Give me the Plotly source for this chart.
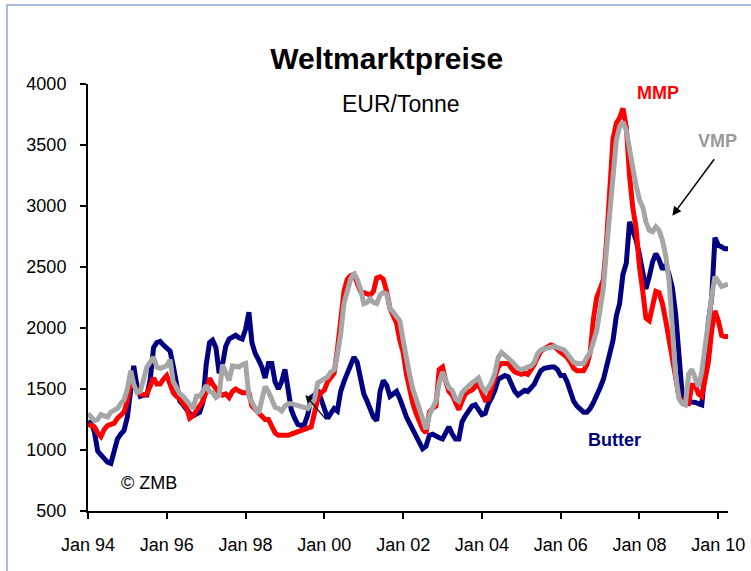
import pandas as pd
import plotly.graph_objects as go

# monthly world market prices, EUR/t, Jan 1994 - Apr 2010
months = pd.date_range("1994-01-01", periods=196, freq="MS")

butter = [
    1230, 1220, 1150, 990, 960, 930, 900, 890, 1000, 1090, 1130, 1160,
    1270, 1540, 1690, 1520, 1440, 1450, 1450, 1580, 1840, 1880, 1890, 1860,
    1830, 1810, 1690, 1520, 1400, 1370, 1330, 1300, 1280, 1290, 1310, 1390,
    1700, 1880, 1900, 1840, 1630, 1700, 1850, 1910, 1930, 1940, 1920, 1910,
    1990, 2130, 1880, 1790, 1740, 1680, 1590, 1710, 1710, 1560, 1500, 1560,
    1660, 1490, 1330, 1260, 1210, 1200, 1210, 1290, 1430, 1450, 1490, 1420,
    1330, 1260, 1300, 1340, 1320, 1480, 1560, 1620, 1680, 1760, 1720, 1600,
    1460, 1400, 1340, 1270, 1240, 1480, 1570, 1530, 1440, 1460, 1480, 1420,
    1330, 1270, 1220, 1170, 1110, 1060, 1010, 1030, 1120, 1130, 1110, 1100,
    1090, 1150, 1190, 1130, 1090, 1090, 1230, 1280, 1330, 1360, 1370, 1320,
    1290, 1300, 1380, 1430, 1490, 1580, 1600, 1610, 1600, 1530, 1480, 1450,
    1470, 1490, 1480, 1510, 1540, 1600, 1650, 1670, 1680, 1680, 1680, 1660,
    1610, 1610, 1560, 1480, 1400, 1360, 1330, 1310, 1310, 1340, 1390, 1440,
    1510, 1580, 1680, 1790, 1900, 2100, 2200, 2440, 2530, 2870, 2800, 2720,
    2600, 2460, 2320, 2420, 2540, 2610, 2560, 2480, 2520, 2440, 2330, 2120,
    1790, 1450, 1400, 1400, 1400, 1390, 1380, 1370, 1680, 2050, 2250, 2740,
    2680, 2660, 2650, 2650,
]

mmp = [
    1210, 1200, 1190, 1140, 1110, 1170, 1200, 1210, 1220, 1260, 1280, 1310,
    1400, 1570, 1530, 1480, 1460, 1450, 1460, 1530, 1590, 1540, 1540, 1580,
    1610, 1540, 1470, 1440, 1420, 1380, 1350, 1260, 1280, 1320, 1360, 1400,
    1480, 1590, 1540, 1500, 1470, 1450, 1460, 1430, 1480, 1500, 1480, 1470,
    1470, 1470, 1360, 1330, 1300, 1270, 1250, 1250, 1200, 1140, 1120, 1120,
    1110, 1120, 1130, 1140, 1150, 1150, 1160, 1170, 1190, 1300, 1420, 1470,
    1490, 1560, 1600, 1630, 1820, 2050, 2300, 2400, 2430, 2440, 2370, 2300,
    2290, 2280, 2270, 2300, 2410, 2420, 2400, 2300, 2160, 2100, 2040, 1900,
    1800, 1620, 1500, 1380, 1300, 1220, 1170, 1140, 1310, 1340, 1360, 1660,
    1680, 1560, 1480, 1450, 1380, 1330, 1400, 1460, 1480, 1490, 1520, 1550,
    1470, 1410, 1420, 1520, 1590, 1680, 1710, 1710, 1710, 1670, 1640, 1630,
    1620, 1630, 1620, 1660, 1700, 1760, 1810, 1830, 1840, 1860, 1850, 1820,
    1800, 1780, 1760, 1720, 1670, 1650, 1650, 1650, 1700, 1800, 2080, 2250,
    2320, 2400, 2700, 3100, 3550, 3680, 3720, 3800, 3650, 3250, 2980, 2820,
    2500, 2300, 2080, 2060, 2160, 2300, 2290, 2200, 2060, 1900, 1760, 1560,
    1440, 1390, 1380, 1380, 1530, 1530, 1460, 1440, 1560, 1720, 1980, 2140,
    2060, 1940, 1930, 1930,
]

vmp = [
    1300, 1270, 1240, 1250, 1290, 1280, 1270, 1310, 1320, 1340, 1380, 1410,
    1500, 1650, 1540, 1470, 1480, 1570, 1680, 1720, 1760, 1680, 1670, 1680,
    1690, 1740, 1560, 1510, 1460, 1440, 1410, 1370, 1340, 1440, 1440, 1480,
    1530, 1480, 1470, 1430, 1450, 1700, 1620, 1570, 1690, 1680, 1680, 1700,
    1710, 1440, 1380, 1340, 1300, 1400, 1520, 1480, 1400, 1350, 1340, 1320,
    1360, 1380, 1380, 1370, 1360, 1350, 1350, 1340, 1380, 1410, 1550, 1570,
    1590, 1600, 1640, 1660, 1780, 1950, 2200, 2300, 2400, 2450, 2400, 2320,
    2200, 2210, 2240, 2210, 2200, 2270, 2290, 2280, 2160, 2130, 2090, 2060,
    1900, 1720, 1620, 1500, 1420, 1340, 1250, 1170, 1290, 1340, 1400, 1550,
    1640, 1570, 1510, 1490, 1420, 1400, 1470, 1500, 1530, 1550, 1570, 1590,
    1520, 1480, 1510, 1560, 1630, 1760, 1800, 1780, 1760, 1730, 1700, 1670,
    1660, 1670, 1680, 1690, 1720, 1790, 1820, 1830, 1830, 1840, 1850, 1840,
    1830, 1820, 1790, 1760, 1720, 1710, 1710, 1710, 1760, 1800, 1890, 1980,
    2150, 2330, 2640, 2960, 3300, 3540, 3650, 3690, 3620, 3440, 3310, 3170,
    3050, 2990, 2870, 2800, 2790, 2830, 2800, 2720, 2590, 2390, 2000, 1620,
    1420, 1380, 1370, 1620, 1660, 1600, 1520, 1640, 1860, 2100, 2260, 2420,
    2380, 2340, 2350, 2360,
]

FONT = "Arial, 'Liberation Sans', sans-serif"

fig = go.Figure()
for name, vals, color in [("Butter", butter, "#000080"), ("MMP", mmp, "#FF0000"), ("VMP", vmp, "#A6A6A6")]:
    fig.add_trace(go.Scatter(x=months, y=vals, mode="lines", name=name,
                             line=dict(color=color, width=5), showlegend=False))

fig.update_layout(
    width=751, height=571,
    margin=dict(l=88, r=23, t=84, b=60),
    paper_bgcolor="white", plot_bgcolor="white",
    font=dict(family=FONT, size=18, color="black"),
    title=dict(text="<b>Weltmarktpreise</b>", x=0.515, y=0.898, xref="container", yref="container",
               xanchor="center", yanchor="middle", font=dict(size=30, color="black")),
)
fig.update_xaxes(
    range=["1994-01-01", "2010-04-01"], tick0="1994-01-01", dtick="M24", tickformat="%b %y",
    showline=True, linecolor="black", linewidth=2, ticks="outside", ticklen=6, tickwidth=2,
    tickcolor="black", showgrid=False, zeroline=False, ticklabelstandoff=10, automargin=False,
)
fig.update_yaxes(
    range=[500, 4000], dtick=500, showline=True, linecolor="black", linewidth=2,
    ticks="outside", ticklen=6, tickwidth=2, tickcolor="black", showgrid=False, zeroline=False,
    ticklabelstandoff=10, automargin=False,
)

# text labels
fig.add_annotation(x="2001-12-15", y=3840, text="EUR/Tonne", showarrow=False, font=dict(size=23))
fig.add_annotation(x="2008-06-20", y=3930, text="<b>MMP</b>", showarrow=False, font=dict(size=18, color="#FF0000"))
fig.add_annotation(x="2009-12-20", y=3530, text="<b>VMP</b>", showarrow=False, font=dict(size=18, color="#999999"))
fig.add_annotation(x="2007-05-15", y=1080, text="<b>Butter</b>", showarrow=False, font=dict(size=18, color="#000080"))
fig.add_annotation(x="1995-07-25", y=727, text="© ZMB", showarrow=False, font=dict(size=18))

# arrows
fig.add_annotation(x="2008-11-01", y=2920, ax=43, ay=-58, text="", showarrow=True,
                   arrowhead=2, arrowsize=1.2, arrowwidth=1.5, arrowcolor="black")
fig.add_annotation(x="1999-07-10", y=1450, ax=22, ay=26, text="", showarrow=True,
                   arrowhead=2, arrowsize=1.2, arrowwidth=1.2, arrowcolor="black")

# chart frame
fig.add_shape(type="rect", xref="paper", yref="paper", x0=-0.1266, x1=1.06, y0=-0.25, y1=1.185,
              line=dict(color="#8DA9D4", width=1.5), layer="below")

# page has a default 8px body margin; drop it so the figure sits at the window origin
fig.write_html("out.html", config={"displayModeBar": False},
               post_script="document.body.style.margin='0';")
